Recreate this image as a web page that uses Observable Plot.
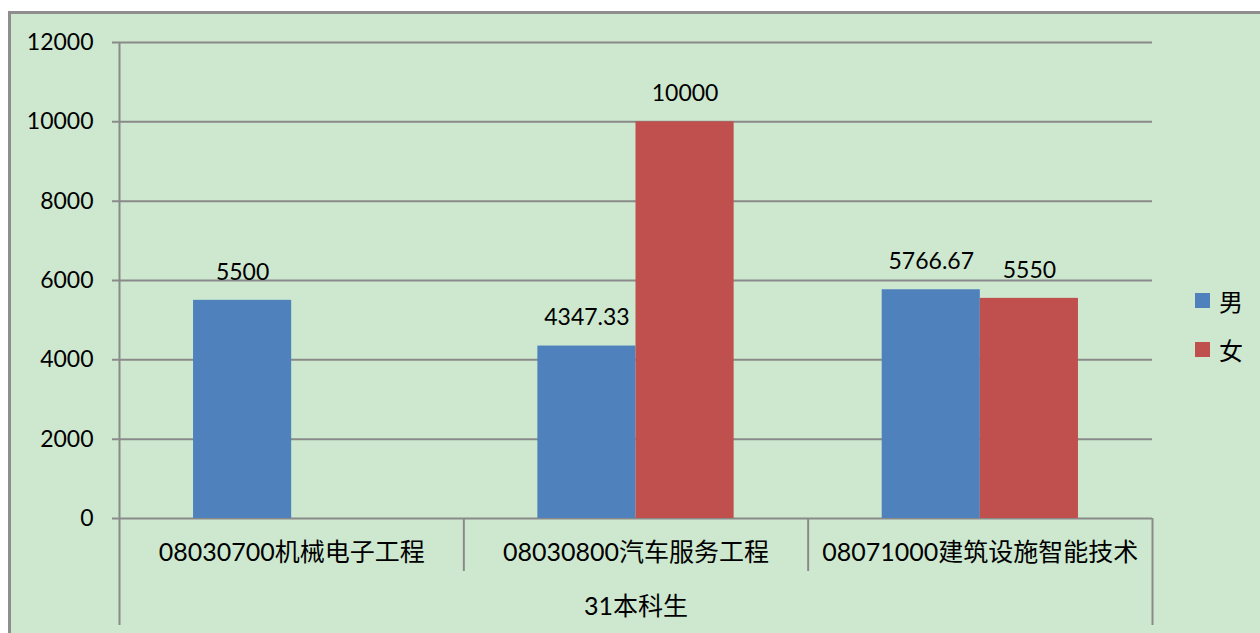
<!DOCTYPE html>
<html>
<head>
<meta charset="utf-8">
<script src="https://cdn.jsdelivr.net/npm/d3@7"></script>
<script src="https://cdn.jsdelivr.net/npm/@observablehq/plot@0.6"></script>
<style>
  html, body { margin: 0; padding: 0; background: #ffffff; }
  #wrap { position: relative; width: 1260px; height: 633px; overflow: hidden; }
  #bg { position: absolute; left: 8px; top: 11px; width: 1300px; height: 700px;
        background: #cde8cf; border-top: 3px solid #8e8e8e; border-left: 3px solid #8e8e8e; box-sizing: border-box; }
  #chart { position: absolute; left: 0; top: 0; }
  #legend { position: absolute; left: 1195px; top: 276px; font-family: "Noto Sans CJK SC", sans-serif; font-size: 24px; color: #000; }
  .item { display: flex; align-items: center; height: 49px; }
  .sw { width: 15px; height: 15px; margin-right: 9px; }
</style>
</head>
<body>
<div id="wrap">
  <div id="bg"></div>
  <div id="chart"></div>
  <div id="legend"></div>
</div>
<script>
const categories = ["08030700机械电子工程", "08030800汽车服务工程", "08071000建筑设施智能技术"];
const groupLabel = "31本科生";
const seriesNames = ["男", "女"];
const maleValues = [5500, 4347.33, 5766.67];
const femaleValues = [null, 10000, 5550];
const yTicks = [0, 2000, 4000, 6000, 8000, 10000, 12000];
const colors = ["#4f81bd", "#c0504d"];

const W = 1260, H = 633, mL = 119, mR = 108, mT = 42, mB = 115;
const unitsPerPx = 12000 / (H - mT - mB);
const innerExt = -53 * unitsPerPx;
const outerExt = -107 * unitsPerPx;
const barW = 0.285;
const pad = (1 - 2 * barW) / 2;

const bars = [];
categories.forEach((c, i) => {
  [maleValues[i], femaleValues[i]].forEach((v, s) => {
    if (v != null) bars.push({ i, s, v, series: seriesNames[s] });
  });
});

const font = "Lato, 'Noto Sans CJK SC', sans-serif";

const chart = Plot.plot({
  width: W, height: H,
  marginLeft: mL, marginRight: mR, marginTop: mT, marginBottom: mB,
  x: { domain: [0, 3], axis: null },
  y: { domain: [0, 12000], axis: null },
  color: { domain: seriesNames, range: colors },
  style: { background: "transparent", overflow: "visible", fontFamily: font },
  marks: [
    Plot.ruleY(yTicks, { y: d => d, stroke: "#8a8a8a", strokeWidth: 2, insetLeft: -7 }),
    Plot.ruleX([0], { x: d => d, y1: outerExt, y2: 12000, stroke: "#8a8a8a", strokeWidth: 2 }),
    Plot.ruleX([1, 2], { x: d => d, y1: 0, y2: innerExt, stroke: "#8a8a8a", strokeWidth: 2 }),
    Plot.ruleX([3], { x: d => d, y1: 0, y2: outerExt, stroke: "#8a8a8a", strokeWidth: 2 }),
    Plot.rectY(bars, {
      x1: d => d.i + pad + d.s * barW,
      x2: d => d.i + pad + (d.s + 1) * barW,
      y1: 0, y2: d => d.v, fill: d => d.series
    }),
    Plot.text(yTicks, { x: 0, y: d => d, text: d => String(d), textAnchor: "end", dx: -26, fontSize: 23, fill: "#000" }),
    Plot.text(bars, {
      x: d => d.i + pad + (d.s + 0.5) * barW, y: d => d.v, text: d => String(d.v),
      dy: -28, fontSize: 23, fill: "#000", textAnchor: "middle"
    }),
    Plot.text(categories, { x: (d, i) => i + 0.5, y: 0, text: d => d, dy: 34, fontSize: 25, fill: "#000" }),
    Plot.text([groupLabel], { x: 1.5, y: 0, text: d => d, dy: 88, fontSize: 25, fill: "#000" })
  ]
});
document.getElementById("chart").appendChild(chart);

const legend = document.getElementById("legend");
seriesNames.forEach((n, k) => {
  const row = document.createElement("div");
  row.className = "item";
  const sw = document.createElement("span");
  sw.className = "sw";
  sw.style.background = colors[k];
  const t = document.createElement("span");
  t.textContent = n;
  row.appendChild(sw); row.appendChild(t);
  legend.appendChild(row);
});
</script>
</body>
</html>
